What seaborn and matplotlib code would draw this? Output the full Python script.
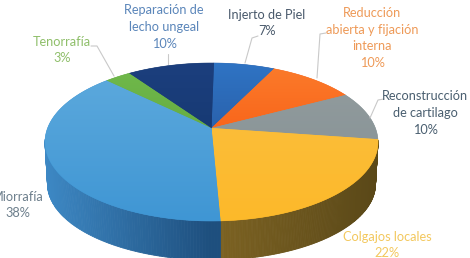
import numpy as np
import matplotlib
matplotlib.use("Agg")
import matplotlib.pyplot as plt
from matplotlib.colors import LinearSegmentedColormap, to_rgb
from matplotlib.patches import Polygon
import seaborn as sns

# Procedure shares, clockwise from twelve o'clock
procedures = ["Injerto de Piel", "Reducción abierta y fijación interna",
              "Reconstrucción de cartílago", "Colgajos locales",
              "Miorrafía", "Tenorrafía", "Reparación de lecho ungeal"]
shares = [7, 10, 10, 22, 38, 3, 10]

# Top-face colours (far edge, near edge)
face_top = ["#2f74c4", "#fb7a2a", "#909a9c", "#fbbd38", "#5ba8dc", "#6fb84a", "#1c3f7e"]
face_bottom = ["#2a62ad", "#f9661b", "#8b9699", "#fdb92a", "#3f96d4", "#66ad43", "#173a74"]
# Rim colours (left end, right end)
rim_left = ["#2a62ad", "#c85a1c", "#6f787a", "#7c6222", "#3d88c4", "#568f38", "#142e5c"]
rim_right = ["#2a62ad", "#c85a1c", "#6f787a", "#5a4818", "#1e4f7e", "#568f38", "#142e5c"]

label_lines = ["Injerto de Piel\n7%", "Reducción\nabierta y fijación\ninterna\n10%",
               "Reconstrucción\nde cartilago\n10%", "Colgajos locales\n22%",
               "Miorrafía\n38%", "Tenorrafía\n3%", "Reparación de\nlecho ungeal\n10%"]
label_xy = [(267, 23), (372, 38), (425, 113), (387, 245), (18, 205), (62, 50), (164, 27)]
label_colors = ["#4a5a6c", "#ee9a58", "#4a5f70", "#f3c85e", "#6d7f8c", "#8fbf6a", "#5b86ba"]

# Leader lines from each label to its slice
leaders = [[(258, 36), (252, 38), (245, 63)],
           [(326, 33), (320, 34), (317, 78)],
           [(384, 99), (378, 100), (370, 118)],
           None, None,
           [(91, 46), (97, 46), (114, 76)],
           [(168, 54), (168, 64)]]

sns.set_theme(style="white")
plt.rcParams["font.family"] = ["Lato", "DejaVu Sans"]

fig = plt.figure(figsize=(4.7, 2.58), dpi=100)
ax = fig.add_axes([0, 0, 1, 1])

cx, cy, a, b = 211.5, 142.0, 166.5, 79.0
drop, a2, b2 = 42.0, 164.0, 76.0
tilt = 0.177       # perspective shift of the pie centre towards the far edge
spin = np.radians(1.0)


def rim_point(theta):
    """Project a true pie angle onto the tilted ellipse, in unit coordinates."""
    x, y = np.sin(theta), np.cos(theta)
    d = 1 + tilt * y
    return x * np.sqrt(1 - tilt ** 2) / d, (y + tilt) / d


edges = np.cumsum([0] + shares) / sum(shares) * 2 * np.pi + spin
apex = (cx, cy - tilt * b)

# Rim first, so the top faces sit over it
for i in range(len(shares)):
    u, v = rim_point(np.linspace(edges[i], edges[i + 1], 160))
    c0, c1 = np.array(to_rgb(rim_left[i])), np.array(to_rgb(rim_right[i]))
    for j in range(len(u) - 1):
        if v[j] > 0.02 and v[j + 1] > 0.02:
            continue
        xs = [cx + a * u[j], cx + a * u[j + 1], cx + a2 * u[j + 1], cx + a2 * u[j]]
        ys = [cy - b * v[j], cy - b * v[j + 1], cy + drop - b2 * v[j + 1], cy + drop - b2 * v[j]]
        span = (xs[0] - (45 if i == 4 else 218)) / (166 if i == 4 else 160)
        col = c0 + (c1 - c0) * np.clip(span, 0, 1)
        ax.fill(xs, ys, color=col, lw=0.6, zorder=1)

# Top faces with a soft vertical gradient
grad = np.linspace(0, 1, 256)[:, None]
for i in range(len(shares)):
    u, v = rim_point(np.linspace(edges[i], edges[i + 1], 200))
    pts = np.column_stack([np.r_[apex[0], cx + a * u], np.r_[apex[1], cy - b * v]])
    ax.add_patch(Polygon(pts, closed=True, fc=face_bottom[i], ec=face_bottom[i], lw=0.4, zorder=2))
    cmap = LinearSegmentedColormap.from_list(f"face{i}", [face_top[i], face_bottom[i]])
    im = ax.imshow(grad, cmap=cmap, aspect="auto", zorder=3,
                   extent=(pts[:, 0].min(), pts[:, 0].max(), pts[:, 1].max(), pts[:, 1].min()))
    im.set_clip_path(Polygon(pts, closed=True, transform=ax.transData))

for line in leaders:
    if line:
        ax.plot(*zip(*line), color="#c9c9c9", lw=0.8, zorder=4, solid_capstyle="round")

for text, (x, y), col in zip(label_lines, label_xy, label_colors):
    ax.text(x, y, text, color=col, fontsize=9.2, ha="center", va="center",
            linespacing=1.45, zorder=5)

ax.set_xlim(0, 470)
ax.set_ylim(258, 0)
ax.axis("off")
fig.savefig("out.png", dpi=100, facecolor="white")
